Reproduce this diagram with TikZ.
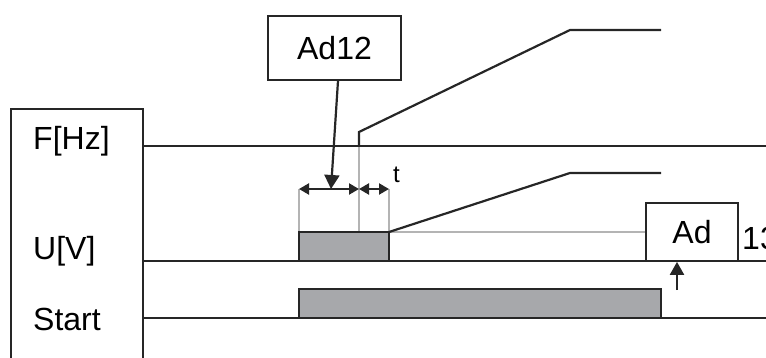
\documentclass[tikz,border=0pt]{standalone}
\usepackage{fontspec}
\setmainfont{Liberation Sans}
\usetikzlibrary{positioning,arrows.meta}
\definecolor{pulsegray}{HTML}{A7A8AB}
\definecolor{guidegray}{HTML}{B4B4B4}

\begin{document}
\begin{tikzpicture}[
  x=1pt, y=-1pt,
  >={Triangle[length=10pt,width=11pt]},
  sig/.style={line width=2.8pt, draw=black!85},
  wave/.style={line width=2.2pt, draw=black!85},
  guide/.style={line width=1.6pt, draw=guidegray},
  pulse/.style={fill=pulsegray, draw=black!85, line width=2.2pt},
  tag/.style={draw=black!85, line width=1.8pt, fill=white, inner sep=0pt, font=\fontsize{32}{36}\selectfont},
  lbl/.style={anchor=base west, inner sep=0pt, font=\fontsize{32}{36}\selectfont}
]
  \useasboundingbox (0,0) rectangle (766,358);
  % label column
  \draw[line width=1.8pt, black!85] (10.7,358) -- (10.7,109) -- (143,109) -- (143,358);
  \node[lbl] (fhz) at (33,150) {F[Hz]};
  \node[lbl] (uv) at (33,259) {U[V]};
  \node[lbl] (start) at (33,330) {Start};
  % timing guides
  \coordinate (d0) at (299,189);
  \coordinate (d1) at (359,189);
  \coordinate (d2) at (389,189);
  \draw[guide] (d0) -- (299,232);
  \draw[guide] (359,146) -- (359,232);
  \draw[guide] (d2) -- (389,232);
  \node[tag, minimum width=92pt, minimum height=58pt] (adbox) at (692,232) {Ad};
  \draw[guide] (389,232) -- (adbox.west |- 0,232);
  % pulses
  \draw[pulse] (299,261) rectangle (389,232);
  \draw[pulse] (299,318) rectangle (661,289);
  % signal lines
  \draw[sig] (143,146) -- (766,146);
  \draw[sig] (143,261) -- (766,261);
  \draw[sig] (143,318) -- (766,318);
  % ramps
  \draw[wave] (359,146) -- (359,132) -- (570,30) -- (661,30);
  \draw[wave] (389,232) -- (570,173) -- (661,173);
  % dimensions
  \draw[wave, <->] (d0) -- (d1);
  \draw[wave, <->] (d1) -- (d2);
  \node[anchor=base west, inner sep=0pt, font=\fontsize{24}{28}\selectfont] (tlbl) at (393,183) {t};
  % parameter boxes
  \node[tag, minimum width=133pt, minimum height=64pt] (ad12) at (334.5,48) {Ad12};
  \draw[wave, -{Triangle[length=14pt,width=15pt]}] ([xshift=3.5pt]ad12.south) -- ([xshift=-28pt]d1);
  \node[lbl] (adnum) at (742,250) {13};
  \coordinate (adup) at (677,290);
  \draw[wave, -{Triangle[length=13pt,width=14pt]}] (adup) -- (adup |- adbox.south);
\end{tikzpicture}
\end{document}
